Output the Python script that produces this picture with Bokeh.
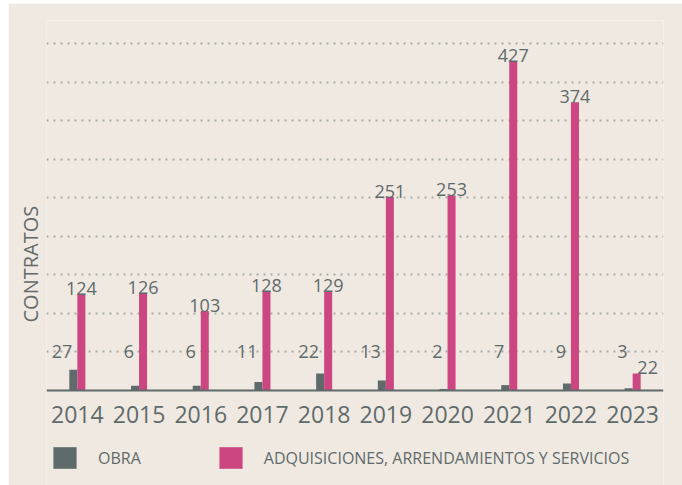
import math
from bokeh.plotting import figure
from bokeh.models import (ColumnDataSource, FactorRange, Legend, LegendItem, Title,
                          Range1d, FixedTicker, Span)
from bokeh.transform import dodge
from bokeh.core.properties import value
from bokeh.embed import file_html
from bokeh.resources import INLINE

# ---- data ----
years = ["2014", "2015", "2016", "2017", "2018", "2019", "2020", "2021", "2022", "2023"]
obra = [27, 6, 6, 11, 22, 13, 2, 7, 9, 3]
adquisiciones = [124, 126, 103, 128, 129, 251, 253, 427, 374, 22]
grid_ticks = [50, 100, 150, 200, 250, 300, 350, 400, 450]
series_names = ["OBRA", "ADQUISICIONES, ARRENDAMIENTOS Y SERVICIOS"]
y_title = "CONTRATOS"

# ---- style ----
FONT = "Open Sans"
TEXT = "#5f6b6b"
GRAY = "#5f6b6b"
PINK = "#cc4682"
BG = "#f0e9e2"
GRID = "#a7aba8"
OBRA_LABEL_LEVEL = 50
ADQ_LABEL_DX = [0, 0, 0, 0, 0, 0, 0, 0, 0, 11]

src = ColumnDataSource(dict(
    year=years,
    obra=obra,
    adq=adquisiciones,
    obra_txt=[str(v) for v in obra],
    adq_txt=[str(v) for v in adquisiciones],
    lvl=[OBRA_LABEL_LEVEL] * len(years),
    base=[0] * len(years),
    dx=ADQ_LABEL_DX,
))

p = figure(
    x_range=FactorRange(*years, range_padding=0),
    y_range=Range1d(-123.25, 480),
    width=674, height=482,
    min_border_left=38, min_border_right=19, min_border_top=17, min_border_bottom=0,
    output_backend="svg", toolbar_location=None,
    background_fill_color=BG, border_fill_color=BG, outline_line_color=None,
    styles={"margin-left": "8px", "margin-top": "3px"},
)

p.xaxis.visible = False
p.yaxis.visible = False
p.xgrid.grid_line_color = None
p.ygrid.ticker = FixedTicker(ticks=grid_ticks)
p.ygrid.grid_line_color = GRID
p.ygrid.grid_line_width = 2
p.ygrid.grid_line_dash = "2 5"

p.add_layout(Span(location=0, dimension="width", line_color=GRAY, line_width=2))

# year labels on the category scale, under the baseline
p.text(x="year", y="base", text="year", source=src, y_offset=16,
       text_align="center", text_baseline="top",
       text_font=value(FONT), text_font_size="23px", text_color=TEXT)

w = 0.13
r1 = p.vbar(x=dodge("year", -w / 2, range=p.x_range), top="obra", width=w,
            source=src, fill_color=GRAY, line_color=None)
r2 = p.vbar(x=dodge("year", w / 2, range=p.x_range), top="adq", width=w,
            source=src, fill_color=PINK, line_color=None)

p.text(x=dodge("year", w / 2, range=p.x_range), y="adq", text="adq_txt", source=src,
       text_align="center", text_baseline="alphabetic", y_offset=-6, x_offset="dx",
       text_font=value(FONT), text_font_size="18px", text_color=TEXT)
p.text(x="year", y="lvl", text="obra_txt", source=src,
       text_align="right", text_baseline="middle", x_offset=-5,
       text_font=value(FONT), text_font_size="18px", text_color=TEXT)

p.add_layout(Title(text=y_title, align="left", offset=163, standoff=5,
                   text_font=FONT, text_font_size="20px", text_font_style="normal",
                   text_color=TEXT), "left")

legend = Legend(
    items=[LegendItem(label=series_names[0], renderers=[r1]),
           LegendItem(label=series_names[1], renderers=[r2])],
    orientation="horizontal", glyph_width=29, glyph_height=27, label_standoff=19,
    spacing=75, padding=0, margin=0, border_line_color=None, background_fill_alpha=0,
    label_text_font=FONT, label_text_font_size="16px", label_text_color=TEXT,
    location=(4, 14),
)
p.add_layout(legend, "center")

open("out.html", "w").write(file_html(p, INLINE))
